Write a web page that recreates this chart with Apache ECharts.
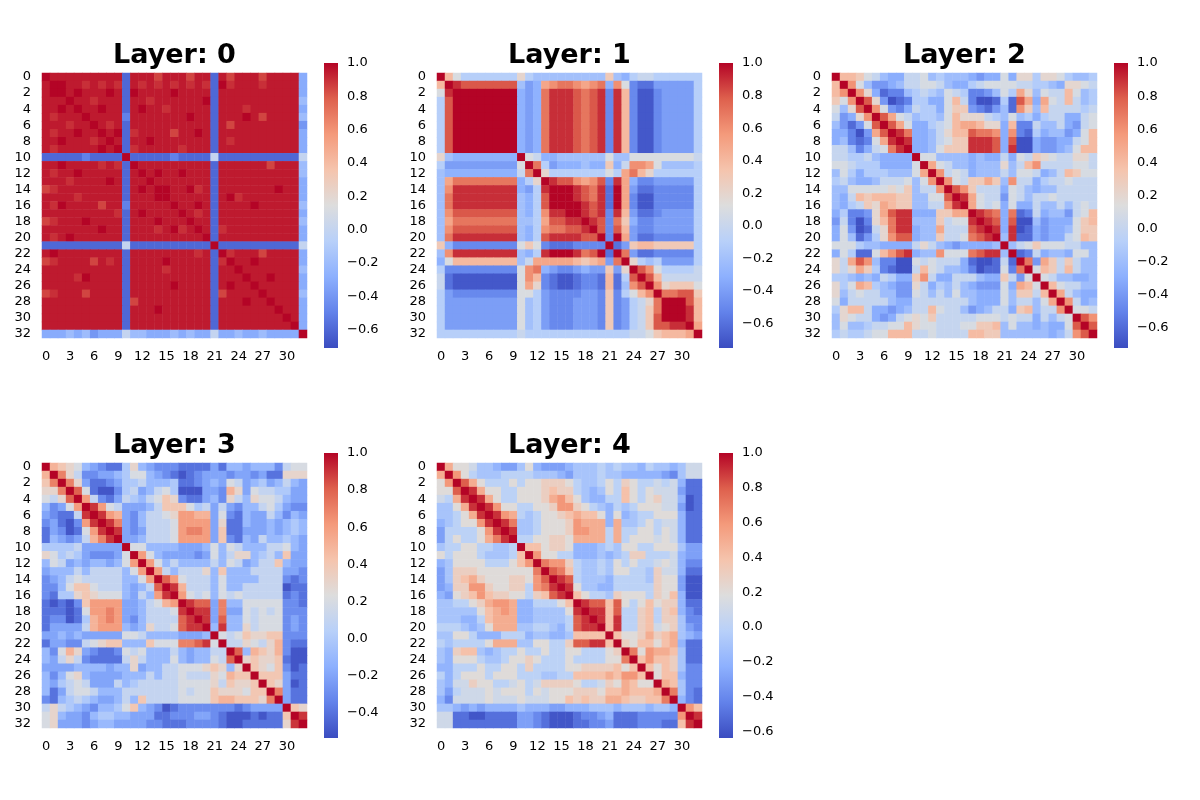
<!DOCTYPE html>
<html>
<head>
<meta charset="utf-8">
<script src="https://cdn.jsdelivr.net/npm/echarts@6/dist/echarts.min.js"></script>
<style>
html,body{margin:0;padding:0;background:#ffffff;}
#chart{width:1200px;height:800px;}
</style>
</head>
<body>
<div id="chart"></div>
<script>
// ---------------- DATA ----------------
const TITLES = ['Layer: 0', 'Layer: 1', 'Layer: 2', 'Layer: 3', 'Layer: 4'];
const CATEGORIES = ['0','1','2','3','4','5','6','7','8','9','10','11','12','13','14','15','16',
  '17','18','19','20','21','22','23','24','25','26','27','28','29','30','31','32'];
// colour-scale lower / upper limits
const VMIN = [-0.71, -0.75, -0.72, -0.537, -0.638];
const VMAX = [1.0, 1.0, 1.0, 1.0, 1.0];
// colorbar tick labels
const CB_TICKS_A = [-0.6, -0.4, -0.2, 0.0, 0.2, 0.4, 0.6, 0.8, 1.0];
const CB_TICKS_B = [-0.4, -0.2, 0.0, 0.2, 0.4, 0.6, 0.8, 1.0];
const CB_TICKS = [CB_TICKS_A, CB_TICKS_A, CB_TICKS_A, CB_TICKS_B, CB_TICKS_A];

// key for the value strings below: one character per cell
const VALUE_KEY = {'X':1.0,'Y':0.95,'9':0.9,'Z':0.85,'8':0.8,'7':0.7,'6':0.6,'5':0.5,'4':0.4,'3':0.3,
  '2':0.2,'1':0.1,'0':0.0,'a':-0.1,'b':-0.2,'c':-0.3,'d':-0.4,'e':-0.5,'f':-0.6,'g':-0.7};

// lower triangle of each (symmetric) matrix, row i holds columns 0..i
const LAYER0 = [
"X","YX","YXX","YYYX","YYXYX","Y9YYYX","YYY9YYX","Y9YYXYYX","YYXYYY9YX","Y9YYYYYXYX",
"fffffeffffX","YYXYYYY9Y9fX","Y9YYXYYYYYfYX","YYY9YYYYXYfYYX","Z9YYYYYYYYfYXYX",
"YYYY9YYYYYfYYYXX","Y9XYYYYZYYeYYYYYX","YYYYYYYYY9fYXYYYYX","Z9YYYXYYYYfYYYXYYYX",
"YYYYYYYXYYfYYY9YX9YX","Y9YXYYYYYYfYYYYYYYYYX",
"ffffffffff"+"0"+"ffffffffff"+"X",
"YXYYYYYYYY"+"f"+"YYYYYYYY9Y"+"f"+"X",
"Z9YYYYZY9Y"+"f"+"YYYYXYYYYY"+"f"+"9X",
"YYYYYYYYYY"+"f"+"YYYY9YYYYY"+"f"+"YYX",
"YYYY9XYYYY"+"f"+"YYYYYYYYYY"+"f"+"YYYX",
"YYYYYYYYYY"+"f"+"YYYYYXYYYY"+"f"+"YXYYX",
"Z9YYYZYYYY"+"f"+"YYYYYYYYYY"+"f"+"ZYYYYX",
"YYYYYYYYYY"+"f"+"ZYYYYYYYYY"+"f"+"YYYXYYX",
"YYYYYYYYYY"+"f"+"YYYXYYYYYY"+"f"+"YYYYYYYX",
"YYYYYYYYYY"+"f"+"YYYYYYYYYY"+"f"+"YYYYYYYYX",
"YYYYYYYYYY"+"f"+"YYYYYYYYYY"+"f"+"YYYYYYYYYX",
"cccbcbdccc"+"0"+"bbcccbcbcc"+"0"+"ccbccbcccc"+"X"
];
const LAYER1 = [
"X","4X","19X","a8XX","a8XXX","a8XXXX","a8XXXXX","a8XXXXXX","a8XXXXXXX","a8XXXXXXXX",
"2bccccccccX","addddddddd1X","bccccccccc07X","b577777777ca2X","b699999999cda9X",
"b799999999bca8XX","b799999999bca8XXX","b688888888bca699XX","b577777777bba58899X",
"b688888888bca677889X","b799999999bca8999988X","3ceeeeeeee131efffeeeeX",
"b699999999bca9XXX978XfX","c144444444b0555554345d7X","aeeeeeeeee167cdeedcdd3d2X",
"0fgggggggg164efggfeef4fa8X","0fgggggggg152efggfeef4fb68X","adeeeeeeee11adeeeedde3ea146X",
"addddddddd1badeeeddde3eda027X","addddddddd1badeeeddde3eda037XX","addddddddd1badeeeddde3eda038XXX",
"addddddddd1badeeeddde3eda038899X","aaaaaaaaaa0aaaaaaaaaaaaa00134445X"
];
const LAYER2 = [
"X","4X","46X","316X","1b28X","0dc26X","bdfd18X","ccegd58X","cbefe159X","00bec0179X",
"00aa0bccccX","110aaacccc1X","b1acaaabbb15X","a0bccb0001b16X","bb11111213b006X",
"bc04344433bb118X","bca0325433bb0069X","caeed25899ccc3355X","d0ege24799bbb30119X",
"c1dgf02799cbb500089X","c1bfda2688cbb3001789X","111abbcccc020bcdccccbX",
"c1aff14689cbb61117899bX","20586beegg101000cfggf0fX","20253aefgg0410bbcegff1e7X",
"aabcbc0acc360cc000bcc30d1X","2a154abcdd20cab0bcddd1c541X","2b0100bbdd10b0b1bbccc1b3304X",
"1c00000bcc0000000bccc1b00b15X","a2440ccdcb004100bdcb00c34b006X","b2100cdc01213000001110100c0b01X",
"b1bba0011421100011334b1bbcbcc18X","a0aa01144400100004433bbbbbbcb068X"
];
const LAYER3 = [
"X","5X","47X","337X","2138X","acb26X","bcdd19X","cbdec69X","dbced269X","dabcb1579X",
"00001bbbbbX","32010bcccb2X","a21babaaba26X","baaa1a1111a26X","cba1211111aa26X",
"cca2442111aba18X","cd00343222ab1a69X","dedec46666bba1256X","ddded26676bba11129X",
"dcced05676bca111189X","dbbbb15666aba3112899X","bbababbbbb221aaaabbbaX",
"dbbcc12344aaa422277892X","ac253bcddc212aaa1abaa11X","ab131cdddd131aaa2abaa218X",
"bbbbaaaabaa3baa11222343a3X","aca23abbbbaaa1a11211132544X","ab0121bbb1a0111112222314334X",
"adb1221aaa111111121224333244X","cda010abba1a41111222245544437X","1310abcaa024abcedcccccccdcbbbbX",
"23abbca00aabbbddcccbbcdeeededd4X","23bbbcbaabbbbccdddccccdeeddddd39X"
];
const LAYER4 = [
"X","5X","26X","228X","1059X","aa259X","aa0259X","ba02269X","c0000269X","c02002579X",
"a002200aa0X","202220aaa04X","ba2222000246X","ca33322222227X","ca345322233268X",
"cb3366322330679X","bc23464332203489X","aa00235665bb00024X","aaaaa24565bbaaaa29X",
"aaabb04555bbaaaa089X","000aba2555aa00ab0899X","aa220bbb000baabba4444X",
"0a00002555aa2200388994X","ab344aba002002002200023X","ab2220aa0223200020000227X",
"bb00020022030000223333424X","0b02220222000aa00444454664X","ab1132200120133332001325422X",
"ac01112122202122233324454445X",
"bd11112111"+"2111224"+"3433"+"55433447"+"X",
"aabcbcbbbb"+"abbbccb"+"bbaa"+"abaaabaab"+"X",
"11eeffeeee"+"ccdefff"+"eddc"+"beeeddddd"+"6"+"X",
"11eeeeeeee"+"ccdefff"+"eedd"+"ceeedddee"+"49"+"X"
];
const LAYERS = [LAYER0, LAYER1, LAYER2, LAYER3, LAYER4];

// ---------------- STYLE / LAYOUT ----------------
const COOLWARM = ['#3b4cc0','#6282ea','#8db0fe','#b8d0f9','#dddddd','#f5c4ad','#f49a7b','#de604d','#b40426'];
const HEAT_LEFT = [42, 437, 832, 42, 437];
const HEAT_TOP = [73, 73, 73, 463, 463];
const HEAT_SIZE = 265;
const CB_DX = 282, CB_DY = -10, CB_W = 14, CB_H = 285;
const FONT = '"DejaVu Sans", "Liberation Sans", sans-serif';

const problems = [];
function buildCells(rows, k) {
  const n = CATEGORIES.length;
  const m = [];
  for (let i = 0; i < n; i++) m.push(new Array(n).fill(0));
  rows.forEach((r, i) => {
    if (r.length !== i + 1) problems.push('L' + k + ' row ' + i + ' len ' + r.length);
    for (let j = 0; j <= i && j < r.length; j++) {
      const v = VALUE_KEY[r[j]];
      if (v === undefined) problems.push('L' + k + ' bad ' + r[j]);
      m[i][j] = v; m[j][i] = v;
    }
  });
  if (rows.length !== n) problems.push('L' + k + ' rows ' + rows.length);
  const cells = [];
  for (let i = 0; i < n; i++) for (let j = 0; j < n; j++) cells.push([j, i, m[i][j]]);
  return cells;
}

const grids = [], xAxes = [], yAxes = [], series = [], visualMaps = [], graphics = [];
LAYERS.forEach((rows, k) => {
  grids.push({left: HEAT_LEFT[k], top: HEAT_TOP[k], width: HEAT_SIZE, height: HEAT_SIZE});
  xAxes.push({type: 'category', gridIndex: k, data: CATEGORIES,
    axisLine: {show: false}, axisTick: {show: false}, splitLine: {show: false},
    axisLabel: {interval: 2, margin: 12, fontSize: 13, color: '#000', fontFamily: FONT}});
  yAxes.push({type: 'category', gridIndex: k, data: CATEGORIES, inverse: true,
    axisLine: {show: false}, axisTick: {show: false}, splitLine: {show: false},
    axisLabel: {interval: 1, margin: 11, fontSize: 13, color: '#000', fontFamily: FONT}});
  series.push({type: 'heatmap', xAxisIndex: k, yAxisIndex: k, data: buildCells(rows, k),
    itemStyle: {borderWidth: 0}, emphasis: {disabled: true}, silent: true, progressive: 0});
  visualMaps.push({type: 'continuous', show: false, seriesIndex: k, dimension: 2,
    min: VMIN[k], max: VMAX[k], inRange: {color: COOLWARM}});
  graphics.push({type: 'text', x: HEAT_LEFT[k] + HEAT_SIZE / 2, y: HEAT_TOP[k] - 17,
    style: {text: TITLES[k], align: 'center', verticalAlign: 'middle',
      font: 'bold 27px ' + FONT, fill: '#000'}});
});

// colorbars
LAYERS.forEach((rows, k) => {
  const gi = 5 + k;
  grids.push({left: HEAT_LEFT[k] + CB_DX, top: HEAT_TOP[k] + CB_DY, width: CB_W, height: CB_H});
  xAxes.push({type: 'value', gridIndex: gi, min: 0, max: 1, show: false});
  yAxes.push({type: 'value', gridIndex: gi, min: VMIN[k], max: VMAX[k], position: 'right',
    axisLine: {show: false}, splitLine: {show: false},
    axisTick: {show: true, length: 5, lineStyle: {color: '#000', width: 1}, customValues: CB_TICKS[k]},
    axisLabel: {customValues: CB_TICKS[k], margin: 9, fontSize: 13, color: '#000', fontFamily: FONT,
      formatter: v => (Math.round(v * 10) / 10).toFixed(1).replace('-', '\u2212')}});
  series.push({type: 'custom', xAxisIndex: gi, yAxisIndex: gi, silent: true,
    data: [[0, VMIN[k], VMAX[k]]],
    renderItem: (params, api) => {
      const cs = params.coordSys;
      const yTop = api.coord([0, api.value(2)])[1];
      const yBot = api.coord([0, api.value(1)])[1];
      const stops = COOLWARM.map((c, i) => ({offset: i / (COOLWARM.length - 1), color: c}));
      return {type: 'rect', shape: {x: cs.x, y: yTop, width: cs.width, height: yBot - yTop},
        style: {fill: new echarts.graphic.LinearGradient(0, 1, 0, 0, stops)}};
    }});
});

if (problems.length) {
  graphics.push({type: 'text', x: 900, y: 500, style: {text: problems.join('\n'), fill: 'red', font: '12px sans-serif'}});
}

const chart = echarts.init(document.getElementById('chart'), null, {renderer: 'canvas'});
chart.setOption({
  animation: false,
  backgroundColor: '#ffffff',
  grid: grids, xAxis: xAxes, yAxis: yAxes,
  visualMap: visualMaps, series: series, graphic: graphics
});
</script>
</body>
</html>
